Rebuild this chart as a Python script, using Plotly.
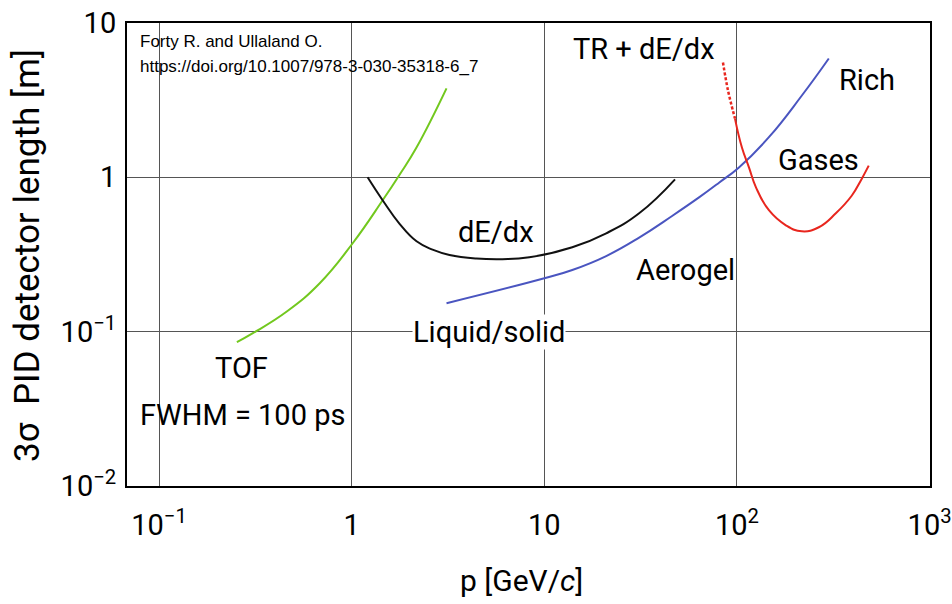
import numpy as np
import plotly.graph_objects as go

# ---- data (p in GeV/c, length in m) ----
tof_p = [0.2536, 0.307, 0.4605, 0.6826, 1.012, 1.448, 1.773, 2.17, 3.107]
tof_L = [0.0855, 0.0978, 0.135, 0.206, 0.374, 0.71, 1.04, 1.56, 3.77]

dedx_p = [1.21, 1.448, 1.773, 2.172, 2.629, 3.22, 4.443, 6.06, 8.36, 13.97, 20.95, 31.06, 47.7]
dedx_L = [1.0, 0.71, 0.50, 0.385, 0.34, 0.314, 0.298, 0.295, 0.303, 0.352, 0.434, 0.585, 0.971]

cher_p = [3.107, 10.0, 13.97, 20.95, 31.06, 46.05, 63.55, 80.7, 102.4, 146.5, 217.2, 299.7]
cher_L = [0.153, 0.222, 0.251, 0.309, 0.407, 0.562, 0.741, 0.923, 1.16, 1.82, 3.39, 5.89]

tr_dash_p = [84.6, 89.8, 97.6]
tr_dash_L = [5.55, 3.66, 2.41]

gas_p = [97.6, 106.1, 115.4, 125.5, 146.5, 179.4, 217.2, 266.0, 326.0, 394.0, 444.0, 483.0]
gas_L = [2.41, 1.56, 1.16, 0.862, 0.612, 0.489, 0.447, 0.475, 0.585, 0.76, 0.977, 1.19]

label_text = ["TR + dE/dx", "Rich", "Gases", "dE/dx", "Aerogel", "Liquid/solid", "TOF", "FWHM = 100 ps"]
label_p = [33.0, 472.0, 266.0, 5.64, 53.8, 5.19, 0.269, 0.272]
label_L = [6.8, 4.3, 1.29, 0.44, 0.25, 0.099, 0.058, 0.029]

x_tickvals = [0.1, 1, 10, 100, 1000]
x_ticktext = ["10<sup>\u22121</sup>", "1", "10", "10<sup>2</sup>", "10<sup>3</sup>"]
y_tickvals = [0.01, 0.1, 1, 10]
y_ticktext = ["10<sup>\u22122</sup>", "10<sup>\u22121</sup>", "1", "10"]

FONT = "Roboto"

fig = go.Figure()
fig.add_trace(go.Scatter(x=tof_p, y=tof_L, mode="lines", line=dict(color="#72c81e", width=2, shape="spline", smoothing=1.3)))
fig.add_trace(go.Scatter(x=dedx_p, y=dedx_L, mode="lines", line=dict(color="#111111", width=2, shape="spline", smoothing=1.3)))
fig.add_trace(go.Scatter(x=cher_p, y=cher_L, mode="lines", line=dict(color="#4a55c0", width=2, shape="spline", smoothing=1.3)))
fig.add_trace(go.Scatter(x=tr_dash_p, y=tr_dash_L, mode="lines", line=dict(color="#e8261e", width=2.5, dash="3px,2px", shape="spline")))
fig.add_trace(go.Scatter(x=gas_p, y=gas_L, mode="lines", line=dict(color="#e8261e", width=2, shape="spline", smoothing=1.3)))

for t, px, py in zip(label_text, label_p, label_L):
    fig.add_annotation(x=np.log10(px), y=np.log10(py), text=t, showarrow=False,
                       xanchor="center", yanchor="middle",
                       bgcolor="white" if t == "Liquid/solid" else None, borderpad=0,
                       font=dict(family=FONT, size=29, color="black"))

fig.add_annotation(xref="paper", yref="paper", x=0.0137, y=0.959, text="Forty R. and Ullaland O.",
                   showarrow=False, xanchor="left", yanchor="middle",
                   font=dict(family="Liberation Sans", size=17, color="black"))
fig.add_annotation(xref="paper", yref="paper", x=0.0137, y=0.905,
                   text="https://doi.org/10.1007/978-3-030-35318-6_7",
                   showarrow=False, xanchor="left", yanchor="middle",
                   font=dict(family="Liberation Sans", size=17, color="black"))

# axis titles
fig.add_annotation(xref="paper", yref="paper", x=-0.1233, y=0.499, text="3\u03c3  PID detector length [m]",
                   textangle=-90, showarrow=False, xanchor="center", yanchor="middle",
                   font=dict(family=FONT, size=35, color="black"))
fig.add_annotation(xref="paper", yref="paper", x=0.491, y=-0.205, text="p [GeV/<i>c</i>]",
                   showarrow=False, xanchor="center", yanchor="middle",
                   font=dict(family=FONT, size=30, color="black"))

fig.update_xaxes(type="log", range=[np.log10(0.0682), 3.002], tickvals=x_tickvals, ticktext=x_ticktext,
                 showgrid=True, gridcolor="#555555", gridwidth=1, automargin=False,
                 showline=True, linecolor="black", linewidth=2, mirror=True,
                 ticks="", ticklabelstandoff=12, zeroline=False,
                 tickfont=dict(family=FONT, size=29, color="black"))
fig.update_yaxes(type="log", range=[-2, 1], tickvals=y_tickvals, ticktext=y_ticktext,
                 showgrid=True, gridcolor="#555555", gridwidth=1, automargin=False,
                 showline=True, linecolor="black", linewidth=2, mirror=True,
                 ticks="", ticklabelstandoff=3, zeroline=False,
                 tickfont=dict(family=FONT, size=29, color="black"))

fig.update_layout(width=952, height=604, margin=dict(l=127, r=22, t=23, b=118, autoexpand=False),
                  plot_bgcolor="white", paper_bgcolor="white", showlegend=False)

fig.write_html("out.html")
